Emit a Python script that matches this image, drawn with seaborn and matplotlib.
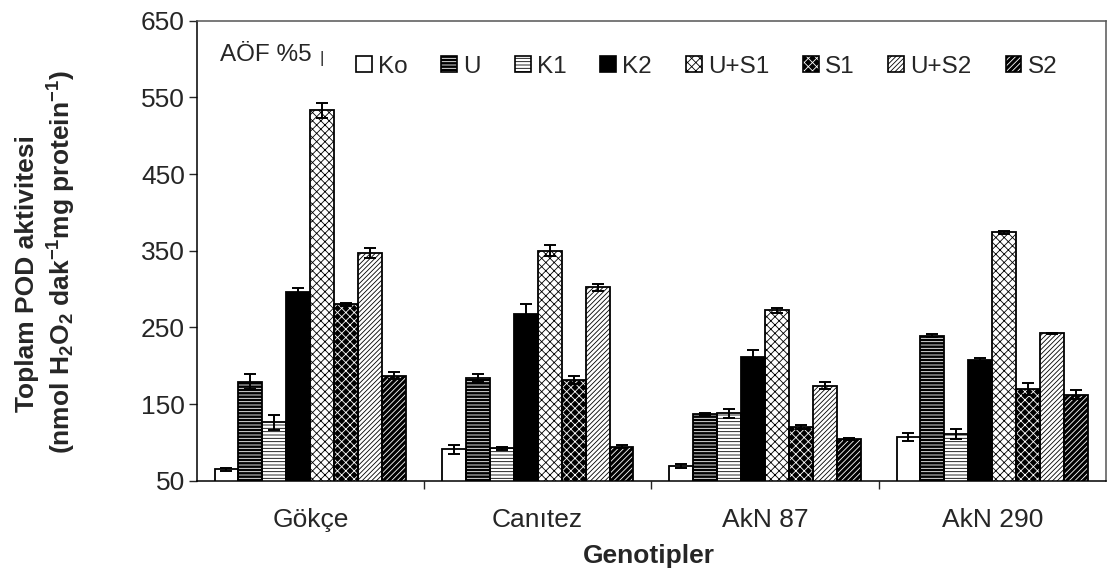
import numpy as np
import pandas as pd
import matplotlib
matplotlib.use("Agg")
import matplotlib.pyplot as plt
from matplotlib.patches import Rectangle, Patch
import seaborn as sns

# ── Data ─────────────────────────────────────────────────────────────────────
genotypes  = ["Gökçe", "Canıtez", "AkN 87", "AkN 290"]
treatments = ["Ko", "U", "K1", "K2", "U+S1", "S1", "U+S2", "S2"]

# mean POD activity per treatment (genotype order as above)
ko  = [65, 91, 69, 107]
u   = [179, 184, 137, 239]
k1  = [126, 92, 138, 111]
k2  = [296, 267, 211, 208]
us1 = [533, 350, 272, 374]
s1  = [280, 181, 120, 170]
us2 = [347, 302, 174, 242]
s2  = [187, 94, 104, 162]

# error bars
ko_err  = [2, 6, 3, 5]
u_err   = [10, 5, 1, 2]
k1_err  = [10, 2, 6, 6]
k2_err  = [5, 13, 10, 2]
us1_err = [10, 7, 3, 2]
s1_err  = [2, 5, 2, 8]
us2_err = [6, 5, 5, 1]
s2_err  = [5, 2, 1.5, 6]

values = [ko, u, k1, k2, us1, s1, us2, s2]
errors = [ko_err, u_err, k1_err, k2_err, us1_err, s1_err, us2_err, s2_err]

df = pd.DataFrame({
    "genotype":  [g for _ in treatments for g in genotypes],
    "treatment": [t for t in treatments for _ in genotypes],
    "value":     [v for vals in values for v in vals],
})

# face colour, hatch, hatch colour
styles = {
    "Ko":   ("white", "",        "black"),
    "U":    ("black", "-----",   "white"),
    "K1":   ("white", "-----",   "black"),
    "K2":   ("black", "",        "black"),
    "U+S1": ("white", "xxxx",    "black"),
    "S1":   ("black", "xxxx",    "white"),
    "U+S2": ("white", "///////", "black"),
    "S2":   ("black", "//////",  "white"),
}

# ── Style ────────────────────────────────────────────────────────────────────
sns.set_style("ticks")
plt.rcParams["font.family"] = ["Liberation Sans", "DejaVu Sans"]
plt.rcParams["mathtext.fontset"] = "custom"
plt.rcParams["mathtext.rm"] = "Liberation Sans:bold"
plt.rcParams["mathtext.it"] = "Liberation Sans:bold"
plt.rcParams["mathtext.bf"] = "Liberation Sans:bold"
plt.rcParams["mathtext.default"] = "rm"
plt.rcParams["hatch.linewidth"] = 0.6

fig = plt.figure(figsize=(11.08, 5.83), dpi=100)
ax = fig.add_axes([0.1775, 0.1755, 0.8207, 0.789])

sns.barplot(data=df, x="genotype", y="value", hue="treatment",
            order=genotypes, hue_order=treatments, palette=["white"] * 8,
            errorbar=None, width=0.843, gap=0, legend=False, ax=ax)

for cont, trt, errs in zip(ax.containers, treatments, errors):
    face, hatch, hc = styles[trt]
    bars = sorted(cont.patches, key=lambda b: b.get_x())
    for bar in bars:
        bar.set_facecolor(face)
        bar.set_hatch(hatch)
        bar.set_edgecolor(hc)
        bar.set_linewidth(0)
        ax.add_patch(Rectangle(bar.get_xy(), bar.get_width(), bar.get_height(),
                               fill=False, ec="black", lw=1.3, zorder=3))
    xs = [b.get_x() + b.get_width() / 2 for b in bars]
    ys = [b.get_height() for b in bars]
    ax.errorbar(xs, ys, yerr=errs, fmt="none", ecolor="black",
                elinewidth=1.4, capsize=4.3, capthick=1.4, zorder=4)

# ── Axes ─────────────────────────────────────────────────────────────────────
ax.set_xlim(-0.5, 3.5)
ax.set_ylim(50, 650)
ax.set_yticks(range(50, 651, 100))
ax.set_xticks(range(len(genotypes)))
ax.set_xticklabels(genotypes)
ax.set_xticks([0.5, 1.5, 2.5], minor=True)
ax.tick_params(axis="x", which="major", length=0, pad=20, labelsize=19)
ax.tick_params(axis="x", which="minor", length=5.5, width=1, direction="out")
ax.tick_params(axis="y", length=5.5, width=1, pad=3, labelsize=19)
ax.set_xlabel("")
ax.set_ylabel("")
for side in ["left", "bottom"]:
    ax.spines[side].set_color("black")
    ax.spines[side].set_linewidth(1.1)
for side in ["top", "right"]:
    ax.spines[side].set_visible(True)
    ax.spines[side].set_color("#555555")
    ax.spines[side].set_linewidth(1.1)

# legend
handles = []
for trt in treatments:
    face, hatch, hc = styles[trt]
    handles.append((Patch(facecolor=face, edgecolor=hc, hatch=hatch, lw=0),
                    Patch(fill=False, edgecolor="black", lw=1.2)))
ax.legend(handles, treatments, loc="center left", bbox_to_anchor=(0.175, 0.9),
          ncol=8, frameon=False, fontsize=17.5, borderpad=0, borderaxespad=0,
          handlelength=0.65, handleheight=0.65, handletextpad=0.25,
          columnspacing=1.4)

ax.text(0.0256, 0.925, "AÖF %5", transform=ax.transAxes, fontsize=17.5,
        ha="left", va="center")
ax.text(0.1375, 0.918, "|", transform=ax.transAxes, fontsize=12,
        ha="center", va="center")

fig.text(27 / 1108, 1 - 274 / 583, "Toplam POD aktivitesi", rotation=90,
         ha="center", va="center", fontsize=19, fontweight="bold")
fig.text(62 / 1108, 1 - 262 / 583,
         r"(nmol H$_2$O$_2$ dak$^{-1}$mg protein$^{-1}$)", rotation=90,
         ha="center", va="center", fontsize=19, fontweight="bold")
fig.text(649 / 1108, 1 - 556 / 583, "Genotipler", ha="center", va="center",
         fontsize=19, fontweight="bold")

fig.savefig("out.png", dpi=100)
